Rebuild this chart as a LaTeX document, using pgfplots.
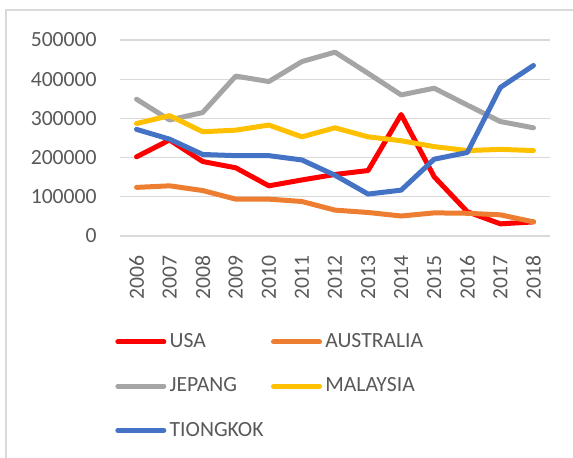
\documentclass[border=0pt]{standalone}
\usepackage{pgfplots}
\pgfplotsset{compat=1.18}
\usepackage{fontspec}
\setmainfont{Carlito}
\definecolor{cUSA}{HTML}{FF0000}
\definecolor{cAUS}{HTML}{ED7D31}
\definecolor{cJEP}{HTML}{A5A5A5}
\definecolor{cMAL}{HTML}{FFC000}
\definecolor{cTIO}{HTML}{4472C4}
\definecolor{txt}{HTML}{595959}
\definecolor{grd}{HTML}{D9D9D9}
\begin{document}
\begin{tikzpicture}[x=0.6pt,y=0.6pt]
\draw[grd, line width=1.2pt] (6,447) rectangle (600,-30);
\begin{axis}[
  at={(72pt,132.6pt)}, anchor=south west,
  scale only axis, width=258pt, height=117.6pt,
  xmin=2005.5, xmax=2018.5, ymin=0, ymax=500000,
  axis line style={draw=none},
  major tick length=0pt,
  scaled y ticks=false,
  xtick={2006,...,2018},
  xticklabels={2006,2007,2008,2009,2010,2011,2012,2013,2014,2015,2016,2017,2018},
  ytick={0,100000,200000,300000,400000,500000},
  yticklabels={0,100000,200000,300000,400000,500000},
  ymajorgrids, grid style={grd, line width=0.8pt},
  tick label style={font=\fontsize{13}{15}\selectfont, text=txt},
  yticklabel style={anchor=east, inner sep=0pt, xshift=-13.8pt},
  xticklabel style={rotate=90, anchor=east, inner sep=0pt, xshift=-11.4pt},
  legend columns=2,
  legend cell align=left,
  legend image code/.code={\draw[#1, line cap=round] (1.5pt,0pt) -- (29.1pt,0pt);},
  legend style={draw=none, fill=none, inner sep=0pt,
    at={(axis description cs:-0.0116,-0.4967)}, anchor=north west,
    font=\fontsize{13}{15}\selectfont, text=txt,
    nodes={inner xsep=0pt, inner ysep=0pt},
    row sep=16.6pt,
    /tikz/every odd column/.append style={column sep=2pt},
    /tikz/every even column/.append style={column sep=4.5pt}},
  every axis plot/.append style={line width=3pt, line cap=round, line join=round},
]
\addplot[cUSA] coordinates {(2006,202000)(2007,245000)(2008,190000)(2009,174000)(2010,128000)(2011,143000)(2012,157000)(2013,167000)(2014,310000)(2015,151000)(2016,62000)(2017,31000)(2018,36000)};
\addlegendentry{USA}
\addplot[cAUS] coordinates {(2006,124000)(2007,128000)(2008,116000)(2009,94000)(2010,94000)(2011,88000)(2012,66000)(2013,60000)(2014,51000)(2015,59000)(2016,58000)(2017,54000)(2018,36000)};
\addlegendentry{AUSTRALIA}
\addplot[cJEP] coordinates {(2006,349000)(2007,296000)(2008,315000)(2009,408000)(2010,394000)(2011,445000)(2012,469000)(2013,415000)(2014,360000)(2015,377000)(2016,334000)(2017,292000)(2018,276000)};
\addlegendentry{JEPANG}
\addplot[cMAL] coordinates {(2006,287000)(2007,307000)(2008,266000)(2009,270000)(2010,283000)(2011,253000)(2012,276000)(2013,253000)(2014,243000)(2015,228000)(2016,218000)(2017,221000)(2018,218000)};
\addlegendentry{MALAYSIA}
\addplot[cTIO] coordinates {(2006,272000)(2007,247000)(2008,208000)(2009,205000)(2010,205000)(2011,194000)(2012,155000)(2013,107000)(2014,117000)(2015,196000)(2016,213000)(2017,379000)(2018,435000)};
\addlegendentry{TIONGKOK}
\end{axis}
\pgfresetboundingbox
\path[use as bounding box] (0,0) rectangle (573,457);
\end{tikzpicture}
\end{document}
